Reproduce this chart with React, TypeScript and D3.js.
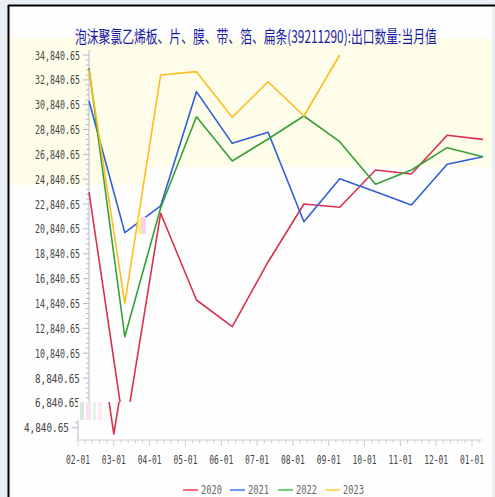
import React, { useLayoutEffect, useRef, useState } from "react";
import * as d3 from "d3";

const months = ["02-01", "03-01", "04-01", "05-01", "06-01", "07-01", "08-01", "09-01", "10-01", "11-01", "12-01", "01-01"];
const series2020 = [23800, 4330, 22100, 15120, 12970, 18180, 22850, 22580, 25580, 25260, 28380, 28050];
const series2021 = [31140, 20540, 22690, 31890, 27730, 28620, 21420, 24880, 23830, 22770, 26040, 26650];
const series2022 = [33790, 12160, 22520, 29870, 26310, 28080, 29930, 27860, 24430, 25580, 27380, 26650];
const series2023 = [33630, 14840, 33230, 33500, 29830, 32690, 29930, 34840];
const seriesNames = ["2020", "2021", "2022", "2023"];
const yTickValues = d3.range(16).map((k) => 4840.65 + 2000 * k);
const titleText = "泡沫聚氯乙烯板、片、膜、带、箔、扁条(39211290):出口数量:当月值";

const lineColors = ["#d8314f", "#2f5ed6", "#35a035", "#ffbb22"];
const legendColors = ["#ff6b80", "#6b9bff", "#6fd56f", "#ffd966"];

type FitProps = {
  x: number;
  y: number;
  width: number;
  anchor?: "start" | "middle";
  fontSize: number;
  fontFamily: string;
  fill: string;
  children: string;
};

function FitText({ x, y, width, anchor = "start", fontSize, fontFamily, fill, children }: FitProps) {
  const ref = useRef<SVGTextElement>(null);
  const [sx, setSx] = useState(1);
  useLayoutEffect(() => {
    if (ref.current) {
      const w = ref.current.getComputedTextLength();
      if (w > 0) setSx(width / w);
    }
  }, [children, width, fontSize, fontFamily]);
  return (
    <text
      ref={ref}
      transform={`translate(${x},${y}) scale(${sx},1)`}
      x={0}
      y={0}
      textAnchor={anchor}
      fontSize={fontSize}
      fontFamily={fontFamily}
      fill={fill}
    >
      {children}
    </text>
  );
}

export default function App() {
  const allSeries = [series2020, series2021, series2022, series2023];
  const x = d3.scalePoint<string>().domain(months).range([89, 483]);
  const y = d3.scaleLinear().domain([4840.65, 34840.65]).range([427.7, 55]);
  const line = d3
    .line<number>()
    .x((_d, i) => x(months[i]) as number)
    .y((d) => y(d));
  const fmt = d3.format(",.2f");
  const SHIFT = -11;
  const CUT = 402;
  const axisColor = "#b8b8cc";
  const labelFont = "'DejaVu Sans Mono', monospace";

  const minorY: number[] = [];
  for (let k = 0; k < yTickValues.length - 1; k++) {
    for (let j = 1; j < 5; j++) minorY.push(yTickValues[k] + 400 * j);
  }
  const step = x.step();
  const lastX = x(months[months.length - 1]) as number;
  const minorX: number[] = [];
  months.forEach((m) => {
    for (let j = 1; j < 5; j++) minorX.push((x(m) as number) + (step / 5) * j);
  });

  const lines = allSeries.map((s, i) => (
    <path key={i} d={line(s) || ""} fill="none" stroke={lineColors[i]} strokeWidth={1.6} strokeLinejoin="round" />
  ));

  const legendX = [183, 230, 278, 325];

  return (
    <div style={{ position: "absolute", left: 0, top: 0 }}>
      <svg width={495} height={497} style={{ display: "block" }}>
        <defs>
          <clipPath id="clipTop">
            <rect x={0} y={0} width={495} height={CUT} />
          </clipPath>
          <clipPath id="clipBottom">
            <rect x={0} y={CUT} width={520} height={497 - CUT} />
          </clipPath>
        </defs>
        <rect x={0} y={0} width={495} height={497} fill="#eaeff5" />
        <rect x={9} y={6} width={483} height={491} fill="#fefefe" />
        <rect x={9} y={38} width={483} height={129} fill="#fefde9" />
        <rect x={9} y={167} width={138} height={18} fill="#fefde9" />
        <line x1={8} x2={495} y1={5.5} y2={5.5} stroke="#000" strokeWidth={2} />
        <line x1={8.5} x2={8.5} y1={5} y2={497} stroke="#000" strokeWidth={2} />

        <FitText x={75} y={43} width={362} fontFamily="'Noto Sans CJK SC', sans-serif" fontSize={17} fill="#1a1aa8">
          {titleText}
        </FitText>

        {/* upper part */}
        <g clipPath="url(#clipTop)">
          <line x1={89} x2={89} y1={50} y2={CUT} stroke={axisColor} strokeWidth={1} />
          {minorY.map((v, i) => (
            <line key={i} x1={86} x2={89} y1={y(v)} y2={y(v)} stroke={axisColor} />
          ))}
          {yTickValues.map((v, i) => (
            <line key={i} x1={83} x2={89} y1={y(v)} y2={y(v)} stroke={axisColor} />
          ))}
          {lines}
        </g>
        {yTickValues.slice(1).map((v, i) => (
          <FitText key={i} x={35} y={y(v) + 4.5} width={45} fontFamily={labelFont} fontSize={13} fill="#444">
            {fmt(v)}
          </FitText>
        ))}

        {/* lower part, shifted */}
        <g transform={`translate(${SHIFT},0)`}>
          <g clipPath="url(#clipBottom)">
            <rect x={89} y={CUT} width={47} height={18} fill="#fcfcfc" />
            <rect x={91} y={CUT} width={4} height={18} fill="#d8e8dc" />
            <rect x={97} y={CUT} width={5} height={18} fill="#fbe3ee" />
            <rect x={104} y={CUT} width={3} height={18} fill="#e3f4e6" />
            <rect x={109} y={CUT} width={4} height={18} fill="#fde9ef" />
            <line x1={89} x2={89} y1={420} y2={440} stroke={axisColor} />
            {minorY
              .filter((v) => y(v) > 420)
              .map((v, i) => (
                <line key={i} x1={86} x2={89} y1={y(v)} y2={y(v)} stroke={axisColor} />
              ))}
            <line x1={83} x2={89} y1={y(4840.65)} y2={y(4840.65)} stroke={axisColor} />
            {lines}
          </g>
          <line x1={89} x2={lastX + 10} y1={440} y2={440} stroke="#cccccc" strokeWidth={1.2} />
          {minorX
            .filter((v) => v < lastX + 10)
            .map((v, i) => (
              <line key={i} x1={v} x2={v} y1={440} y2={443} stroke="#cccccc" />
            ))}
          {months.map((m, i) => (
            <line key={i} x1={x(m)} x2={x(m)} y1={440} y2={446} stroke="#cccccc" />
          ))}
          {months.map((m, i) => (
            <FitText key={i} x={x(m) as number} y={464} anchor="middle" width={24} fontFamily={labelFont} fontSize={13} fill="#444">
              {m}
            </FitText>
          ))}
          <FitText x={35} y={y(4840.65) + 4.5} width={45} fontFamily={labelFont} fontSize={13} fill="#444">
            {fmt(4840.65)}
          </FitText>
        </g>

        {/* small artifact */}
        <rect x={138} y={217} width={3} height={17} fill="#fff27a" />
        <rect x={141} y={217} width={5} height={17} fill="#f6d2f0" />

        {/* legend */}
        {seriesNames.map((n, i) => (
          <g key={n}>
            <line x1={legendX[i]} x2={legendX[i] + 15} y1={490} y2={490} stroke={legendColors[i]} strokeWidth={2} />
            <FitText x={legendX[i] + 18} y={494} width={21} fontFamily={labelFont} fontSize={13} fill="#666">
              {n}
            </FitText>
          </g>
        ))}
      </svg>
    </div>
  );
}
